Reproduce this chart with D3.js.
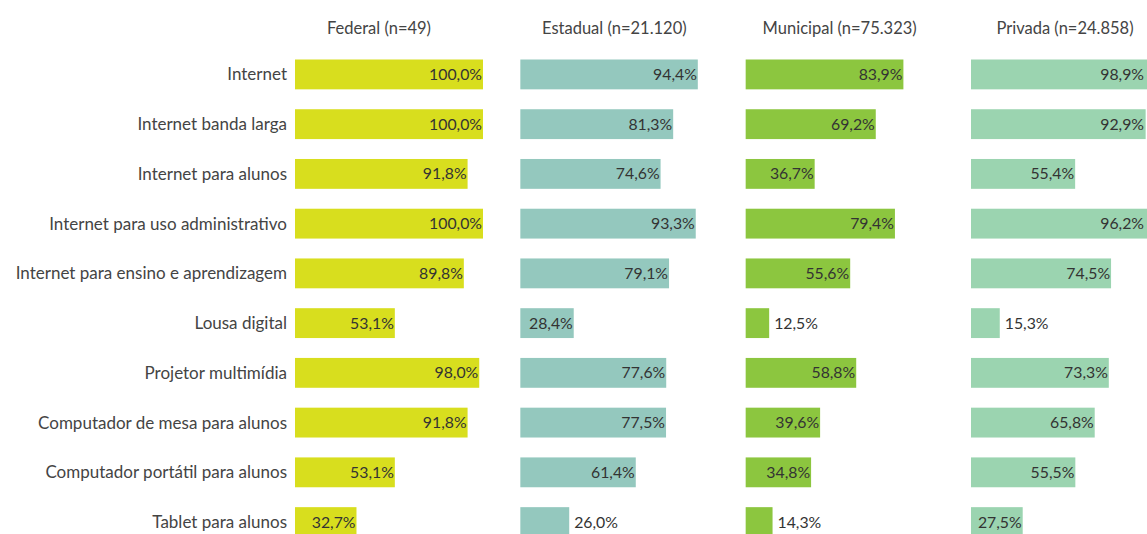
<html>
<head>
  <style>
    body { margin: 0; background: #fff; font-family: Lato, "Noto Sans", sans-serif; }
  </style>
</head>
<body>
  <svg id="chart"></svg>
  <script src="https://cdn.jsdelivr.net/npm/d3@7"></script>
  <script>
    var width = 1147, height = 534;

    var categories = [
      "Internet",
      "Internet banda larga",
      "Internet para alunos",
      "Internet para uso administrativo",
      "Internet para ensino e aprendizagem",
      "Lousa digital",
      "Projetor multimídia",
      "Computador de mesa para alunos",
      "Computador portátil para alunos",
      "Tablet para alunos"
    ];
    var groups = ["Federal (n=49)", "Estadual (n=21.120)", "Municipal (n=75.323)", "Privada (n=24.858)"];
    var federal   = [100.0, 100.0, 91.8, 100.0, 89.8, 53.1, 98.0, 91.8, 53.1, 32.7];
    var estadual  = [94.4, 81.3, 74.6, 93.3, 79.1, 28.4, 77.6, 77.5, 61.4, 26.0];
    var municipal = [83.9, 69.2, 36.7, 79.4, 55.6, 12.5, 58.8, 39.6, 34.8, 14.3];
    var privada   = [98.9, 92.9, 55.4, 96.2, 74.5, 15.3, 73.3, 65.8, 55.5, 27.5];
    var colors = ["#d8de1e", "#94c8be", "#8cc63f", "#9bd4b0"];

    var series = [federal, estadual, municipal, privada];

    var svg = d3.select("#chart").attr("width", width).attr("height", height);

    // escalas
    var y = d3.scaleBand().domain(categories)
      .range([59.5, 537]).paddingInner(0.4).paddingOuter(0);
    var colX = d3.scalePoint().domain(groups).range([295, 971]);
    var x = d3.scaleLinear().domain([0, 100]).range([0, 188]);

    // rótulos das categorias
    svg.append("g").selectAll("text").data(categories).enter().append("text")
      .attr("x", 287)
      .attr("y", function(d){ return y(d) + y.bandwidth()/2; })
      .attr("dy", "0.35em")
      .attr("text-anchor", "end")
      .attr("font-size", "17px")
      .attr("fill", "#444")
      .text(function(d){ return d; });

    function fmt(v){ return v.toFixed(1).replace(".", ",") + "%"; }

    groups.forEach(function(g, gi){
      var x0 = colX(g);
      var col = svg.append("g").attr("transform", "translate(" + x0 + ",0)");

      col.append("text")
        .attr("x", gi === 0 ? 84 : 94).attr("y", 28)
        .attr("dy", "0.35em")
        .attr("text-anchor", "middle")
        .attr("font-size", "16.5px")
        .attr("fill", "#444")
        .text(g);

      var rows = series[gi].map(function(v, i){ return {cat: categories[i], v: v}; });

      col.selectAll("rect").data(rows).enter().append("rect")
        .attr("x", 0)
        .attr("y", function(d){ return y(d.cat); })
        .attr("width", function(d){ return x(d.v); })
        .attr("height", y.bandwidth())
        .attr("fill", colors[gi]);

      col.selectAll("text.val").data(rows).enter().append("text")
        .attr("class", "val")
        .attr("font-size", "15.8px")
        .attr("fill", "#333")
        .attr("y", function(d){ return y(d.cat) + y.bandwidth()/2; })
        .attr("dy", "0.35em")
        .text(function(d){ return fmt(d.v); })
        .each(function(d){
          var w = this.getComputedTextLength();
          var inside = x(d.v) > w + 6.5;
          // não deixar o rótulo sair da área visível
          var end = Math.min(x(d.v), width - x0 - 2);
          d3.select(this)
            .attr("x", inside ? end - 1 : x(d.v) + 5)
            .attr("text-anchor", inside ? "end" : "start");
        });
    });
  </script>
</body>
</html>
